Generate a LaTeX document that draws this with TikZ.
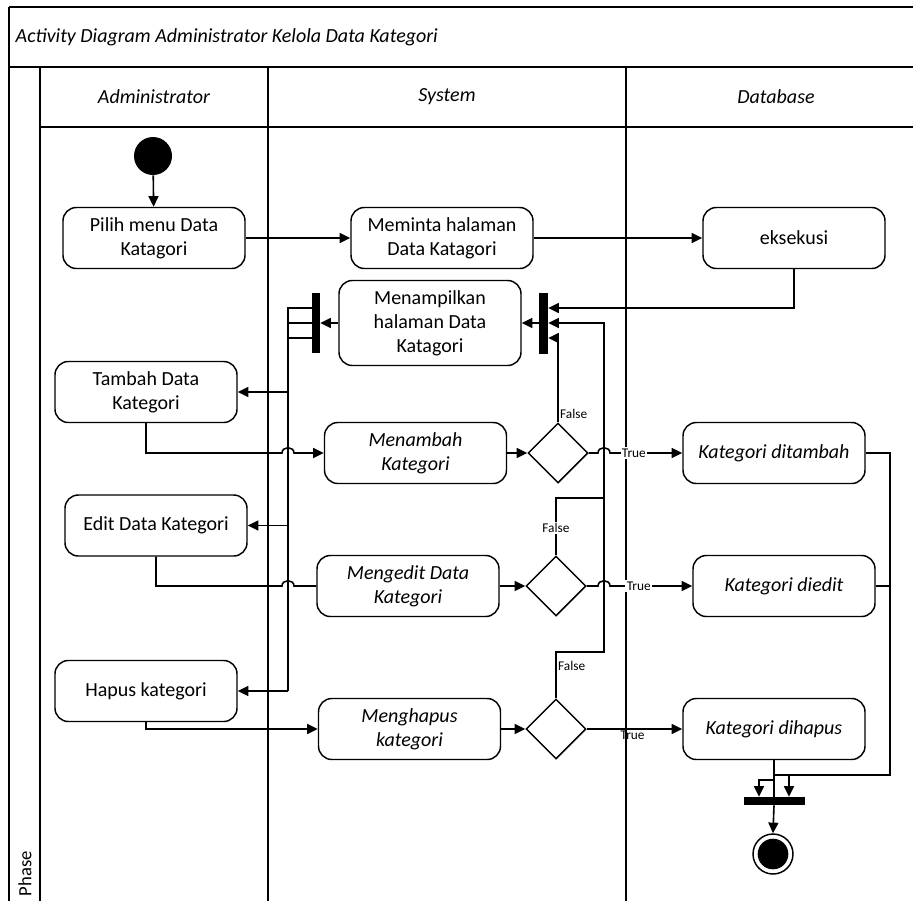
\documentclass[tikz,border=0pt]{standalone}
\usepackage{fontspec}
\setmainfont{Carlito}
\usetikzlibrary{arrows.meta, shapes.geometric}

\begin{document}
\begin{tikzpicture}[x=0.75pt, y=-0.75pt,
  act/.style={draw, line width=1.1pt, rounded corners=10pt, minimum width=136.5pt,
              minimum height=45.75pt, align=center, font=\fontsize{15}{18}\selectfont},
  iact/.style={act, font=\fontsize{15}{18}\selectfont\itshape},
  decide/.style={draw, diamond, line width=1.1pt, minimum width=45pt, minimum height=45pt, inner sep=0pt},
  syncbar/.style={fill=black, inner sep=0pt},
  flow/.style={-{Triangle[length=8pt, width=7.5pt]}, line width=1.2pt},
  link/.style={line width=1.2pt},
  lane/.style={line width=1.5pt},
  head/.style={font=\fontsize{15}{18}\selectfont\itshape},
  lbl/.style={font=\fontsize{10}{12}\selectfont, fill=white, inner sep=1pt}]
  \useasboundingbox (0,0) rectangle (913,900);
  \clip (0,0) rectangle (913,900);
  % Frame and lanes
  \draw[lane] (9,7) -- (920,7);
  \draw[lane] (9,7) -- (9,910);
  \draw[lane] (9,67) -- (920,67);
  \draw[lane] (40,127) -- (920,127);
  \draw[lane] (40,67) -- (40,910);
  \draw[lane] (268,67) -- (268,910);
  \draw[lane] (626,67) -- (626,910);
  \node[head, anchor=west] (title) at (11,37) {Activity Diagram Administrator Kelola Data Kategori};
  \node[head] (hadmin) at (154,97) {Administrator};
  \node[head] (hsys) at (447,97) {System};
  \node[head] (hdb) at (776,97) {Database};
  \node[font=\fontsize{14}{16}\selectfont, rotate=90, anchor=west] (phase) at (25,901) {Phase};
  % Actions
  \node[circle, fill=black, minimum size=28.5pt, inner sep=0pt] (start) at (153,156) {};
  \node[act] (pilih) at (154,238) {Pilih menu Data\\Katagori};
  \node[act] (meminta) at (442,238) {Meminta halaman\\Data Katagori};
  \node[act] (eksekusi) at (794,238) {eksekusi};
  \node[syncbar, minimum width=6pt, minimum height=45pt] (lbar) at (316,323) {};
  \node[act, minimum height=63.75pt] (tampil) at (430,323) {Menampilkan\\halaman Data\\Katagori};
  \node[syncbar, minimum width=6.75pt, minimum height=45.75pt] (rbar) at (543.5,323) {};
  \node[act] (tambah) at (146,392) {Tambah Data\\Kategori};
  \node[iact] (menambah) at (415.5,453) {Menambah\\Kategori};
  \node[decide] (d1) at (558,453) {};
  \node[iact] (ditambah) at (774,453) {Kategori ditambah};
  \node[act] (edit) at (156,525.5) {Edit Data Kategori};
  \node[iact] (mengedit) at (408,586) {Mengedit Data\\Kategori};
  \node[decide] (d2) at (556,586) {};
  \node[iact] (diedit) at (784,586) {Kategori diedit};
  \node[act] (hapus) at (146,691) {Hapus kategori};
  \node[iact] (menghapus) at (409.5,729) {Menghapus\\kategori};
  \node[decide] (d3) at (556,729) {};
  \node[iact] (dihapus) at (774,729) {Kategori dihapus};
  \node[syncbar, minimum width=45.75pt, minimum height=6pt] (fbar) at (774,801) {};
  \node[circle, draw, line width=1.1pt, minimum size=30pt, inner sep=0pt] (final) at (773,854) {};
  \node[circle, fill=black, minimum size=23pt, inner sep=0pt] (finaldot) at (final) {};
  % Main flow
  \draw[flow] (start) -- (pilih);
  \draw[flow] (pilih) -- (meminta);
  \draw[flow] (meminta) -- (eksekusi);
  \draw[flow] (eksekusi.south) |- ([yshift=11.25pt]rbar.east);
  \draw[flow] (rbar.west) -- (tampil.east);
  \draw[flow] (tampil.west) -- (lbar.east);
  % Fork to the admin choices
  \coordinate (trunk) at (288,308);
  \draw[link] ([yshift=11.25pt]lbar.west) -- (trunk) -- (trunk |- hapus.east);
  \draw[link] (lbar.west) -- ++(-24,0);
  \draw[link] ([yshift=-11.25pt]lbar.west) -- ++(-24,0);
  \draw[flow] (trunk |- tambah.east) -- (tambah.east);
  \draw[flow] (trunk |- edit.east) -- (edit.east);
  \draw[flow] (trunk |- hapus.east) -- (hapus.east);
  % Choices to system (with line jumps)
  \draw[flow] (tambah.south) |- (282,453) .. controls (282,446) and (294,446) .. (294,453) -- (menambah.west);
  \draw[link] (edit.south) |- (282,586) .. controls (282,579) and (294,579) .. (294,586) -- (mengedit.west);
  \draw[flow] (hapus.south) |- (menghapus.west);
  \draw[flow] (menambah) -- (d1);
  \draw[flow] (mengedit) -- (d2);
  \draw[flow] (menghapus) -- (d3);
  % Decisions
  \coordinate (loopa) at (604,652);
  \coordinate (loopb) at (604,498);
  \draw[flow] (d1.north) |- node[lbl, pos=0.05, anchor=west, fill=none] {False} ([yshift=-11.25pt]rbar.east);
  \draw[link] (d2.north) |- node[lbl, pos=0.24] {False} (loopb);
  \draw[flow] (d3.north) |- node[lbl, pos=0.35, anchor=west, fill=none] {False} (loopa) |- (rbar.east);
  \draw[flow] (d1.east) -- (598,453) .. controls (598,446) and (610,446) .. (610,453) -- (ditambah.west)
    node[lbl, pos=0.33] {True};
  \draw[flow] (d2.east) -- (598,586) .. controls (598,579) and (610,579) .. (610,586) -- (diedit.west)
    node[lbl, pos=0.35] {True};
  \draw[flow] (d3.east) -- (dihapus.west) node[lbl, pos=0.48, below, fill=none] {True};
  % Join and end
  \coordinate (mr) at (890,775);
  \coordinate (mh) at (759,780);
  \draw[link] (ditambah.east) -| (mr) -- (mr -| dihapus.south);
  \draw[link] (diedit.east) -- (diedit.east -| mr);
  \draw[link] (dihapus.south) -- (fbar.north);
  \draw[flow] (dihapus.south |- mh) -| ([xshift=-11.25pt]fbar.north);
  \draw[flow] ([xshift=11.25pt]fbar.north |- mr) -- ([xshift=11.25pt]fbar.north);
  \draw[flow] (fbar.south) -- (final.north);
\end{tikzpicture}
\end{document}
